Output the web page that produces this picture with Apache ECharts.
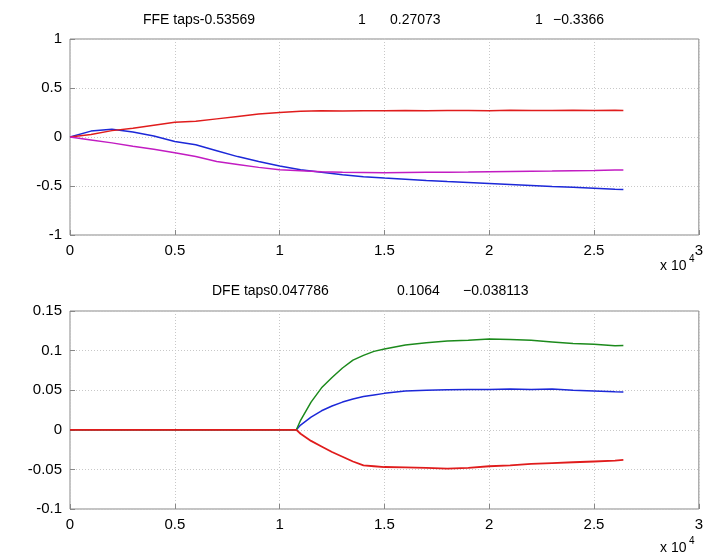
<!DOCTYPE html>
<html>
<head>
<meta charset="utf-8">
<script src="https://cdn.jsdelivr.net/npm/echarts@6/dist/echarts.min.js"></script>
<style>
  html, body { margin: 0; padding: 0; background: #fff; }
  #chart { width: 706px; height: 559px; }
</style>
</head>
<body>
<div id="chart"></div>
<script>
// FFE taps (top)
var ffeX = [0, 1000, 2000, 3000, 4000, 5000, 6000, 7000, 8000, 9000, 10000, 11000, 12000, 13000,
    14000, 15000, 16000, 17000, 18000, 19000, 20000, 21000, 22000, 23000, 24000, 25000, 26000, 26400];
var ffeBlue = [0, 0.06, 0.08, 0.05, 0.01, -0.045, -0.08, -0.14, -0.2, -0.25, -0.297, -0.335, -0.36, -0.385,
    -0.405, -0.418, -0.43, -0.443, -0.455, -0.465, -0.475, -0.485, -0.495, -0.505, -0.513, -0.522, -0.532, -0.5357];
var ffeRed = [0, 0.025, 0.065, 0.09, 0.12, 0.15, 0.16, 0.185, 0.21, 0.235, 0.25, 0.262, 0.268, 0.266,
    0.268, 0.267, 0.27, 0.268, 0.27, 0.271, 0.269, 0.272, 0.27, 0.271, 0.273, 0.271, 0.272, 0.2707];
var ffeMagenta = [0, -0.03, -0.06, -0.095, -0.125, -0.16, -0.2, -0.25, -0.28, -0.31, -0.335, -0.345, -0.355, -0.36,
    -0.362, -0.365, -0.362, -0.36, -0.36, -0.358, -0.355, -0.352, -0.35, -0.348, -0.345, -0.342, -0.338, -0.3366];

// DFE taps (bottom)
var dfeX = [0, 10800, 11000, 11500, 12000, 12500, 13000, 13500, 14000, 14500, 15000, 16000, 17000,
    18000, 19000, 20000, 21000, 22000, 23000, 24000, 25000, 26000, 26400];
var dfeBlue = [0, 0, 0.006, 0.016, 0.024, 0.03, 0.035, 0.039, 0.042, 0.044, 0.046, 0.049, 0.05,
    0.0505, 0.051, 0.051, 0.0515, 0.051, 0.0515, 0.05, 0.049, 0.048, 0.0478];
var dfeGreen = [0, 0, 0.012, 0.035, 0.053, 0.066, 0.078, 0.088, 0.094, 0.099, 0.102, 0.107, 0.11,
    0.112, 0.113, 0.1145, 0.114, 0.113, 0.111, 0.109, 0.108, 0.106, 0.1064];
var dfeRed = [0, 0, -0.005, -0.014, -0.021, -0.028, -0.034, -0.04, -0.045, -0.046, -0.047, -0.0475, -0.048,
    -0.049, -0.048, -0.046, -0.045, -0.043, -0.042, -0.041, -0.04, -0.039, -0.0381];

var xTicks = ['0', '0.5', '1', '1.5', '2', '2.5', '3'];

function pairs(xs, ys) {
    return xs.map(function (x, i) { return [x, ys[i]]; });
}

var font = 'Liberation Sans, Arial, Helvetica, sans-serif';

function xAxis(idx) {
    return {
        type: 'value', gridIndex: idx, min: 0, max: 30000, interval: 5000,
        axisLine: {show: false, onZero: false},
        axisTick: {inside: true, length: 5, lineStyle: {color: '#888'}},
        axisLabel: {
            color: '#000', fontSize: 15, fontFamily: font, margin: 8,
            formatter: function (v) { return xTicks[Math.round(v / 5000)]; }
        },
        splitLine: {show: true, lineStyle: {color: '#c8c8c8', type: [1, 2]}}
    };
}

function yAxis(idx, min, max, step) {
    return {
        type: 'value', gridIndex: idx, min: min, max: max, interval: step,
        axisLine: {show: false, onZero: false},
        axisTick: {inside: true, length: 5, lineStyle: {color: '#888'}},
        axisLabel: {
            color: '#000', fontSize: 15, fontFamily: font, margin: 8,
            formatter: function (v) { return String(Math.round(v * 1000) / 1000); }
        },
        splitLine: {show: true, lineStyle: {color: '#c8c8c8', type: [1, 2]}}
    };
}

function line(name, xi, data, color, w) {
    return {
        name: name, type: 'line', xAxisIndex: xi, yAxisIndex: xi,
        data: data, showSymbol: false, symbol: 'none',
        lineStyle: {color: color, width: w || 1.5},
        animation: false
    };
}

function txt(x, y, s, size, align) {
    return {
        type: 'text', left: x, top: y,
        style: {text: s, fill: '#000', font: size + 'px ' + font, textAlign: align || 'left', textVerticalAlign: 'middle'}
    };
}

var chart = echarts.init(document.getElementById('chart'));
chart.setOption({
    backgroundColor: '#fff',
    animation: false,
    grid: [
        {left: 70, top: 39, width: 630, height: 196, show: true, borderColor: '#888', borderWidth: 1},
        {left: 70, top: 311, width: 630, height: 198, show: true, borderColor: '#888', borderWidth: 1}
    ],
    xAxis: [xAxis(0), xAxis(1)],
    yAxis: [yAxis(0, -1, 1, 0.5), yAxis(1, -0.1, 0.15, 0.05)],
    series: [
        line('FFE 1', 0, pairs(ffeX, ffeBlue), '#1c28d8'),
        line('FFE 3', 0, pairs(ffeX, ffeRed), '#e01c1c'),
        line('FFE 5', 0, pairs(ffeX, ffeMagenta), '#c21cc2'),
        line('DFE 1', 1, pairs(dfeX, dfeBlue), '#1c28d8'),
        line('DFE 2', 1, pairs(dfeX, dfeGreen), '#1c8a1c'),
        line('DFE 3', 1, pairs(dfeX, dfeRed), '#e01c1c', 1.8)
    ],
    graphic: [
        txt(143, 13, 'FFE taps-0.53569', 14),
        txt(358, 13, '1', 14),
        txt(390, 13, '0.27073', 14),
        txt(535, 13, '1', 14),
        txt(553, 13, '\u22120.3366', 14),
        txt(212, 284, 'DFE taps0.047786', 14),
        txt(397, 284, '0.1064', 14),
        txt(463, 284, '\u22120.038113', 14),
        txt(660, 259, 'x 10', 14),
        txt(689, 254, '4', 10),
        txt(660, 541, 'x 10', 14),
        txt(689, 536, '4', 10)
    ]
});
</script>
</body>
</html>
